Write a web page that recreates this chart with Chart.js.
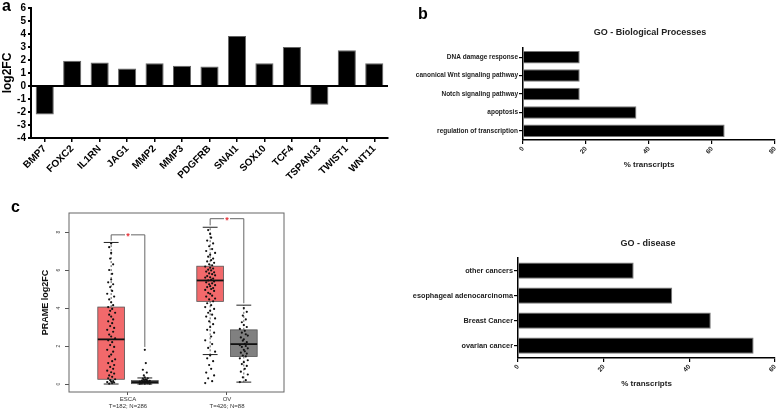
<!DOCTYPE html>
<html>
<head>
<meta charset="utf-8">
<script src="https://cdn.jsdelivr.net/npm/chart.js@4/dist/chart.umd.min.js"></script>
<style>
  body { margin: 0; background: #fff; }
  #fig { position: relative; width: 782px; height: 414px; overflow: hidden; background: #fff; font-family: Arial, "Liberation Sans", sans-serif; }
  canvas { position: absolute; }
  .letter { position: absolute; font-weight: bold; font-size: 16px; line-height: 16px; color: #000; }
  .title { position: absolute; font-weight: bold; font-size: 9px; line-height: 10px; color: #222; transform: translateX(-50%); white-space: nowrap; }
</style>
</head>
<body>
<div id="fig">
  <canvas id="chartA" width="390" height="200" style="left:0;top:0"></canvas>
  <canvas id="chartB" width="392" height="200" style="left:390px;top:0"></canvas>
  <canvas id="chartC" width="390" height="214" style="left:0;top:200px"></canvas>
  <canvas id="chartD" width="392" height="214" style="left:390px;top:200px"></canvas>
  <div class="letter" style="left:2px;top:-2px">a</div>
  <div class="letter" style="left:418px;top:6px">b</div>
  <div class="letter" style="left:11px;top:199px">c</div>
  <div class="title" style="left:650px;top:27px">GO - Biological Processes</div>
  <div class="title" style="left:648px;top:238px">GO - disease</div>
</div>
<script>
const fontFamily = "Arial, 'Liberation Sans', sans-serif";

// panel a
const genes = ["BMP7", "FOXC2", "IL1RN", "JAG1", "MMP2", "MMP3", "PDGFRB", "SNAI1", "SOX10", "TCF4", "TSPAN13", "TWIST1", "WNT11"];
const log2fc = [-2.2, 1.95, 1.8, 1.35, 1.75, 1.55, 1.5, 3.85, 1.75, 3.0, -1.45, 2.75, 1.75];

// panel b
const bioProcesses = ["DNA damage response", "canonical Wnt signaling pathway", "Notch signaling pathway", "apoptosis", "regulation of transcription"];
const bioPercent = [18, 18, 18, 36, 64];

// panel d
const diseases = ["other cancers", "esophageal adenocarcinoma", "Breast Cancer", "ovarian cancer"];
const diseasePercent = [27, 36, 45, 55];

// panel c
const cancerTypes = ["ESCA", "OV"];
const sampleSizes = ["T=182; N=286", "T=426; N=88"];
const cancerPos = [1, 2];
const boxPos = [0.83, 1.17, 1.83, 2.17];   // tumor / normal per cancer type
const whiskerLow = [0, 0, 1.55, 0.1];
const q1 = [0.25, 0.02, 4.35, 1.45];
const median = [2.35, 0.1, 5.45, 2.1];
const q3 = [4.05, 0.18, 6.2, 2.85];
const whiskerHigh = [7.45, 0.32, 8.25, 4.15];
const sigLevel = [7.85, 8.7];
const sigLegLow = [[7.55, 1.95], [8.35, 4.25]];
const cTicks = [0, 2, 4, 6, 8];

// jittered samples [offset, value]
const escaTumor = [
  [-0.02,0.02],[0.01,0.05],[0.03,0.08],[-0.04,0.1],[0.0,0.12],[0.02,0.15],[-0.01,0.2],[0.04,0.25],[-0.03,0.3],[0.01,0.38],
  [-0.02,0.45],[0.03,0.55],[0.0,0.62],[-0.04,0.7],[0.02,0.8],[-0.01,0.9],[0.03,1.0],[-0.03,1.1],[0.01,1.2],[0.04,1.3],
  [-0.02,1.45],[0.0,1.55],[0.02,1.7],[-0.04,1.8],[0.03,1.95],[-0.01,2.05],[0.01,2.2],[-0.03,2.3],[0.04,2.4],[0.0,2.5],
  [-0.02,2.6],[0.02,2.75],[-0.04,2.85],[0.03,2.95],[-0.01,3.05],[0.01,3.2],[-0.03,3.3],[0.02,3.4],[0.0,3.55],[-0.02,3.65],
  [0.04,3.75],[-0.01,3.85],[0.01,3.95],[-0.03,4.05],[0.02,4.15],[0.0,4.3],[-0.02,4.45],[0.03,4.6],[-0.04,4.75],[0.01,4.9],
  [-0.01,5.1],[0.02,5.25],[-0.03,5.35],[0.0,5.5],[0.01,5.8],[-0.02,6.0],[0.02,6.3],[-0.01,6.6],[0.0,6.9],[-0.02,7.2],[0.0,7.4]
];
const escaNormal = [
  [-0.05,0.01],[-0.03,0.03],[0.0,0.02],[0.03,0.04],[0.05,0.02],[-0.04,0.06],[-0.01,0.08],[0.02,0.07],[0.04,0.09],[-0.02,0.11],
  [0.01,0.12],[0.03,0.14],[-0.05,0.13],[0.0,0.16],[-0.03,0.18],[0.02,0.2],[0.05,0.17],[-0.01,0.22],[0.01,0.25],[-0.02,0.28],
  [0.03,0.3],[0.0,0.35],[-0.01,0.45],[0.02,0.6],[-0.02,0.75],[0.01,1.1],[0.0,1.8]
];
const ovTumor = [
  [-0.05,0.05],[0.02,0.15],[-0.02,0.3],[0.04,0.45],[-0.04,0.6],[0.01,0.8],[-0.01,1.0],[0.03,1.2],[-0.03,1.35],[0.0,1.5],
  [0.05,1.7],[-0.02,1.9],[0.02,2.1],[-0.05,2.3],[0.01,2.5],[0.04,2.7],[-0.03,2.85],[0.0,3.0],[0.03,3.15],[-0.01,3.3],
  [0.05,3.45],[-0.04,3.55],[0.02,3.65],[-0.02,3.75],[0.0,3.85],[0.04,3.95],[-0.05,4.05],[0.01,4.15],[-0.03,4.25],[0.03,4.35],
  [-0.01,4.45],[0.05,4.5],[-0.04,4.6],[0.02,4.65],[0.0,4.75],[-0.02,4.8],[0.04,4.9],[-0.05,4.95],[0.01,5.0],[0.03,5.05],
  [-0.03,5.1],[0.0,5.15],[0.05,5.2],[-0.01,5.25],[0.02,5.3],[-0.04,5.35],[0.04,5.4],[-0.02,5.45],[0.01,5.5],[0.03,5.55],
  [-0.05,5.6],[0.0,5.62],[-0.03,5.68],[0.05,5.72],[0.02,5.78],[-0.01,5.82],[0.04,5.88],[-0.04,5.92],[0.01,5.98],[-0.02,6.02],
  [0.03,6.08],[0.0,6.12],[-0.05,6.18],[0.02,6.25],[-0.01,6.3],[0.04,6.38],[-0.03,6.45],[0.01,6.52],[0.03,6.6],[-0.02,6.7],
  [0.0,6.8],[0.05,6.9],[-0.04,7.0],[0.02,7.1],[-0.01,7.25],[0.03,7.4],[-0.03,7.55],[0.01,7.7],[0.0,7.9],[-0.02,8.1]
];
const ovNormal = [
  [-0.04,0.1],[0.02,0.2],[-0.01,0.35],[0.04,0.5],[-0.03,0.65],[0.01,0.8],[0.03,0.95],[-0.02,1.05],[0.0,1.15],[0.04,1.25],
  [-0.04,1.35],[0.02,1.45],[-0.01,1.5],[0.03,1.6],[-0.03,1.65],[0.01,1.72],[0.0,1.8],[0.04,1.88],[-0.02,1.95],[0.02,2.0],
  [-0.04,2.05],[0.01,2.12],[0.03,2.2],[-0.01,2.28],[0.0,2.35],[-0.03,2.45],[0.04,2.55],[0.02,2.62],[-0.02,2.7],[0.01,2.8],
  [-0.04,2.9],[0.03,3.0],[0.0,3.1],[-0.02,3.25],[0.02,3.4],[-0.01,3.6],[0.03,3.8],[0.0,4.0]
];
const samples = [escaTumor, escaNormal, ovTumor, ovNormal];
const boxColors = ["#f2696b", "#808080", "#f2696b", "#808080"];

const noPlugins = { legend: { display: false }, tooltip: { enabled: false } };

// ---- a ----
new Chart(document.getElementById("chartA"), {
  type: "bar",
  data: {
    labels: genes,
    datasets: [{ data: log2fc, backgroundColor: "#000", borderColor: "#666", borderWidth: 1, barPercentage: 0.66, categoryPercentage: 1 }]
  },
  options: {
    responsive: false, animation: false,
    layout: { padding: { top: 6, right: 2, left: 0, bottom: 0 } },
    plugins: noPlugins,
    scales: {
      x: {
        grid: { offset: false, drawOnChartArea: false, color: "#000", tickLength: 4, lineWidth: 1.5 },
        border: { color: "#000", width: 2 },
        ticks: { color: "#000", font: { family: fontFamily, size: 10, weight: "bold" }, minRotation: 45, maxRotation: 45, padding: 1, autoSkip: false },
        afterFit: s => { s.height = 62; }
      },
      y: {
        min: -4, max: 6,
        ticks: { stepSize: 1, autoSkip: false, color: "#000", font: { family: fontFamily, size: 10, weight: "bold" }, padding: 2 },
        grid: { color: ctx => ctx.tick && ctx.tick.value === 0 ? "#000" : "transparent", lineWidth: 2, tickColor: "#000", tickLength: 3 },
        border: { color: "#000", width: 2 },
        title: { display: true, text: "log2FC", color: "#000", font: { family: fontFamily, size: 12, weight: "bold" }, padding: 0 },
        afterFit: s => { s.width = 31; }
      }
    }
  }
});

// ---- b and d ----
function goChart(id, labels, values, max, opts) {
  return new Chart(document.getElementById(id), {
    type: "bar",
    data: {
      labels: labels,
      datasets: [{ data: values, backgroundColor: "#000", borderColor: "#777", borderWidth: 1, barPercentage: opts.barPct, categoryPercentage: 1 }]
    },
    options: {
      indexAxis: "y",
      responsive: false, animation: false,
      layout: { padding: opts.padding },
      plugins: noPlugins,
      scales: {
        x: {
          min: 0, max: max,
          ticks: { stepSize: 20, color: "#222", font: { family: fontFamily, size: 6.5, weight: "bold" }, minRotation: 50, maxRotation: 50, padding: 1 },
          grid: { drawOnChartArea: false, color: "#000", tickLength: 4, lineWidth: 1.2 },
          border: { color: "#000", width: 1.5 },
          title: { display: true, text: "% transcripts", color: "#222", font: { family: fontFamily, size: 8, weight: "bold" }, padding: 0 },
          afterFit: s => { s.height = opts.xHeight; }
        },
        y: {
          ticks: { autoSkip: false, color: "#222", font: { family: fontFamily, size: opts.labelSize, weight: "bold" }, padding: 1 },
          grid: { offset: false, drawOnChartArea: false, color: "#000", tickLength: 4, lineWidth: 1.2 },
          border: { color: "#000", width: 1.5 },
          afterFit: s => { s.width = opts.yWidth; }
        }
      }
    }
  });
}

goChart("chartB", bioProcesses, bioPercent, 80, {
  barPct: 0.68, labelSize: 6.5, yWidth: 133, xHeight: 30,
  padding: { top: 48, right: 5, left: 0, bottom: 30 }
});
goChart("chartD", diseases, diseasePercent, 60, {
  barPct: 0.65, labelSize: 7.3, yWidth: 128, xHeight: 31,
  padding: { top: 58, right: 3, left: 0, bottom: 25 }
});

// ---- c ----
const boxWidth = 0.27, capWidth = 0.15;
const boxPlot = {
  id: "boxPlot",
  beforeDatasetsDraw(chart) {
    const { ctx, scales: { x, y } } = chart;
    ctx.save();
    boxPos.forEach((bx, i) => {
      const l = x.getPixelForValue(bx - boxWidth / 2), r = x.getPixelForValue(bx + boxWidth / 2);
      const cx = x.getPixelForValue(bx);
      const t = y.getPixelForValue(q3[i]), b = y.getPixelForValue(q1[i]);
      // whiskers
      ctx.strokeStyle = "#333"; ctx.lineWidth = 0.8; ctx.setLineDash([2, 2]);
      ctx.beginPath();
      ctx.moveTo(cx, t); ctx.lineTo(cx, y.getPixelForValue(whiskerHigh[i]));
      ctx.moveTo(cx, b); ctx.lineTo(cx, y.getPixelForValue(whiskerLow[i]));
      ctx.stroke();
      ctx.setLineDash([]);
      // box
      ctx.fillStyle = boxColors[i];
      ctx.fillRect(l, t, r - l, b - t);
      ctx.strokeStyle = "#555"; ctx.lineWidth = 0.8;
      ctx.strokeRect(l, t, r - l, b - t);
    });
    ctx.restore();
  },
  afterDatasetsDraw(chart) {
    const { ctx, chartArea: a, scales: { x, y } } = chart;
    ctx.save();
    boxPos.forEach((bx, i) => {
      const l = x.getPixelForValue(bx - boxWidth / 2), r = x.getPixelForValue(bx + boxWidth / 2);
      const cl = x.getPixelForValue(bx - capWidth / 2), cr = x.getPixelForValue(bx + capWidth / 2);
      ctx.strokeStyle = "#111"; ctx.lineWidth = 1.8;
      ctx.beginPath();
      const m = y.getPixelForValue(median[i]);
      ctx.moveTo(l, m); ctx.lineTo(r, m);
      ctx.stroke();
      ctx.lineWidth = 1; ctx.strokeStyle = "#222";
      ctx.beginPath();
      [whiskerLow[i], whiskerHigh[i]].forEach(v => {
        const p = y.getPixelForValue(v);
        ctx.moveTo(cl, p); ctx.lineTo(cr, p);
      });
      ctx.stroke();
    });
    // significance brackets
    cancerPos.forEach((c, k) => {
      const xl = x.getPixelForValue(boxPos[k * 2]), xr = x.getPixelForValue(boxPos[k * 2 + 1]);
      const yt = y.getPixelForValue(sigLevel[k]);
      ctx.strokeStyle = "#666"; ctx.lineWidth = 1;
      ctx.beginPath();
      ctx.moveTo(xl, y.getPixelForValue(sigLegLow[k][0]));
      ctx.lineTo(xl, yt); ctx.lineTo(xr, yt);
      ctx.lineTo(xr, y.getPixelForValue(sigLegLow[k][1]));
      ctx.stroke();
      const mx = (xl + xr) / 2;
      ctx.fillStyle = "#fff"; ctx.fillRect(mx - 3, yt - 2, 6, 4);
      ctx.fillStyle = "#e8333a";
      ctx.font = "bold 9px " + fontFamily;
      ctx.textAlign = "center"; ctx.textBaseline = "middle";
      ctx.fillText("*", mx, yt + 2);
    });
    // frame
    ctx.strokeStyle = "#666"; ctx.lineWidth = 1;
    ctx.strokeRect(a.left, a.top, a.right - a.left, a.bottom - a.top);
    // vertical tick labels
    ctx.fillStyle = "#444"; ctx.font = "5px " + fontFamily;
    ctx.textAlign = "center"; ctx.textBaseline = "middle";
    cTicks.forEach(v => {
      ctx.save();
      ctx.translate(a.left - 10, y.getPixelForValue(v));
      ctx.rotate(-Math.PI / 2);
      ctx.fillText(String(v), 0, 0);
      ctx.restore();
    });
    ctx.restore();
  }
};

new Chart(document.getElementById("chartC"), {
  type: "scatter",
  data: {
    datasets: samples.map((pts, i) => ({
      data: pts.map(p => ({ x: boxPos[i] + p[0], y: p[1] })),
      pointRadius: 1.1, pointBackgroundColor: "#111", pointBorderWidth: 0
    }))
  },
  options: {
    responsive: false, animation: false,
    layout: { padding: { top: 13, right: 106, left: 38, bottom: 0 } },
    plugins: noPlugins,
    scales: {
      x: {
        type: "linear", min: 0.404, max: 2.576,
        afterBuildTicks: s => { s.ticks = cancerPos.map(v => ({ value: v })); },
        ticks: {
          color: "#333", font: { family: fontFamily, size: 6 }, padding: 1,
          callback: (v) => { const i = cancerPos.indexOf(v); return [cancerTypes[i], sampleSizes[i]]; }
        },
        grid: { drawOnChartArea: false, color: "#555", tickLength: 3 },
        border: { display: false },
        afterFit: s => { s.height = 22; }
      },
      y: {
        min: -0.42, max: 9.0,
        afterBuildTicks: s => { s.ticks = cTicks.map(v => ({ value: v })); },
        ticks: { color: "transparent", font: { size: 5 } },
        grid: { drawOnChartArea: false, color: "#555", tickLength: 4 },
        border: { display: false },
        title: { display: true, text: "PRAME log2FC", color: "#111", font: { family: fontFamily, size: 9, weight: "bold" }, padding: 2 },
        afterFit: s => { s.width = 31; }
      }
    }
  },
  plugins: [boxPlot]
});
</script>
</body>
</html>
